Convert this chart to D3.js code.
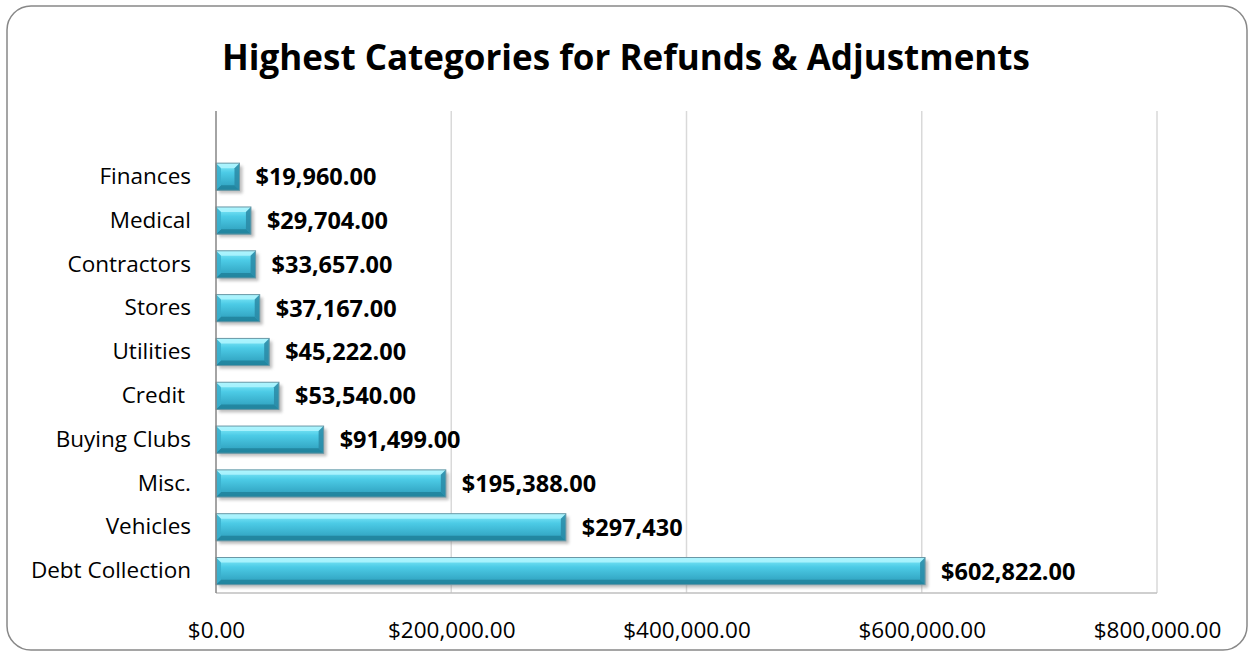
<!DOCTYPE html>
<html>
<head>
<meta charset="utf-8">
<script src="https://cdn.jsdelivr.net/npm/d3@7"></script>
<style>
  body { margin: 0; background: #fff; }
  text { font-family: "Open Sans", Lato, sans-serif; }
</style>
</head>
<body>
<div id="chart"></div>
<script>
// data, top of chart first
var categories = ["Finances", "Medical", "Contractors", "Stores", "Utilities", "Credit ", "Buying Clubs", "Misc.", "Vehicles", "Debt Collection"];
var values = [19960, 29704, 33657, 37167, 45222, 53540, 91499, 195388, 297430, 602822];
var valueLabels = ["$19,960.00", "$29,704.00", "$33,657.00", "$37,167.00", "$45,222.00", "$53,540.00", "$91,499.00", "$195,388.00", "$297,430", "$602,822.00"];
var xTicks = [0, 200000, 400000, 600000, 800000];

var data = categories.map(function(c, i) {
  return {category: c, value: values[i], label: valueLabels[i]};
});

var W = 1252, H = 656;
var plot = {left: 216, right: 1157, top: 111, bottom: 593};

var svg = d3.select("#chart").append("svg")
  .attr("width", W)
  .attr("height", H);

var defs = svg.append("defs");
var grad = defs.append("linearGradient")
  .attr("id", "barGrad")
  .attr("x1", 0).attr("y1", 0).attr("x2", 0).attr("y2", 1);
grad.append("stop").attr("offset", "0%").attr("stop-color", "#8aeefc");
grad.append("stop").attr("offset", "35%").attr("stop-color", "#4ccbe6");
grad.append("stop").attr("offset", "100%").attr("stop-color", "#2b9ab8");

var blur = defs.append("filter").attr("id", "shadow")
  .attr("x", "-10%").attr("y", "-30%").attr("width", "130%").attr("height", "180%");
blur.append("feGaussianBlur").attr("stdDeviation", 1.5);

// outer frame
svg.append("rect")
  .attr("x", 7).attr("y", 6)
  .attr("width", 1240).attr("height", 644)
  .attr("rx", 24).attr("ry", 24)
  .attr("fill", "#fff")
  .attr("stroke", "#888")
  .attr("stroke-width", 1.5);

// title
svg.append("text")
  .attr("x", 626)
  .attr("y", 70)
  .attr("text-anchor", "middle")
  .style("font-size", "35px")
  .style("font-weight", "bold")
  .text("Highest Categories for Refunds & Adjustments");

// scales
var x = d3.scaleLinear()
  .domain([0, 800000])
  .range([plot.left, plot.right]);

// one empty band is left above the first category
var step = (plot.bottom - plot.top) / (categories.length + 1);
var y = d3.scaleBand()
  .domain(categories)
  .range([plot.top + step, plot.bottom])
  .paddingInner(0.38)
  .paddingOuter(0.19);

// gridlines
svg.append("g")
  .selectAll("line")
  .data(xTicks.slice(1))
  .enter()
  .append("line")
    .attr("x1", function(d) { return x(d); })
    .attr("x2", function(d) { return x(d); })
    .attr("y1", plot.top)
    .attr("y2", plot.bottom)
    .attr("stroke", "#d9d9d9")
    .attr("stroke-width", 1.5);

svg.append("line")
  .attr("x1", plot.left).attr("x2", plot.right)
  .attr("y1", plot.bottom).attr("y2", plot.bottom)
  .attr("stroke", "#bfbfbf")
  .attr("stroke-width", 1.5);

// x axis labels
var xAxis = svg.append("g")
  .attr("transform", "translate(0," + plot.bottom + ")")
  .call(d3.axisBottom(x).tickValues(xTicks).tickFormat(d3.format("$,.2f")).tickSize(0).tickPadding(29));
xAxis.select(".domain").remove();
xAxis.selectAll("text")
  .style("font-size", "22.5px")
  .attr("fill", "#000");

// bars
var bevel = 5;
var bars = svg.append("g").selectAll("g")
  .data(data)
  .enter()
  .append("g")
    .attr("transform", function(d) { return "translate(" + x(0) + "," + y(d.category) + ")"; });

var bh = y.bandwidth();

bars.append("rect")
  .attr("x", 3).attr("y", 3)
  .attr("width", function(d) { return x(d.value) - x(0); })
  .attr("height", bh)
  .attr("fill", "#8a8a8a")
  .attr("opacity", 0.55)
  .attr("filter", "url(#shadow)");

bars.append("rect")
  .attr("width", function(d) { return x(d.value) - x(0); })
  .attr("height", bh)
  .attr("fill", "url(#barGrad)");

// bevel edges
bars.append("path")
  .attr("d", function(d) {
    var w = x(d.value) - x(0);
    return "M0,0 L" + w + ",0 L" + (w - bevel) + "," + bevel + " L" + bevel + "," + bevel + "Z";
  })
  .attr("fill", "#b5f6ff")
  .attr("opacity", 0.8);
bars.append("path")
  .attr("d", function(d) {
    var w = x(d.value) - x(0);
    return "M0," + bh + " L" + w + "," + bh + " L" + (w - bevel) + "," + (bh - bevel) + " L" + bevel + "," + (bh - bevel) + "Z";
  })
  .attr("fill", "#1f7f99")
  .attr("opacity", 0.8);
bars.append("path")
  .attr("d", function(d) {
    var w = x(d.value) - x(0);
    return "M" + w + ",0 L" + w + "," + bh + " L" + (w - bevel) + "," + (bh - bevel) + " L" + (w - bevel) + "," + bevel + "Z";
  })
  .attr("fill", "#2a8aa6")
  .attr("opacity", 0.85);
bars.append("path")
  .attr("d", "M0,0 L0," + bh + " L" + bevel + "," + (bh - bevel) + " L" + bevel + "," + bevel + "Z")
  .attr("fill", "#3aaecb")
  .attr("opacity", 0.85);

bars.append("rect")
  .attr("width", function(d) { return x(d.value) - x(0); })
  .attr("height", bh)
  .attr("fill", "none")
  .attr("stroke", "#6a98a6")
  .attr("stroke-width", 1);

// value labels
bars.append("text")
  .attr("x", function(d) { return x(d.value) - x(0) + 16; })
  .attr("y", bh / 2)
  .attr("dy", "0.36em")
  .style("font-size", "23.5px")
  .style("font-weight", "bold")
  .text(function(d) { return d.label; });

// y axis
var yAxis = svg.append("g")
  .attr("transform", "translate(" + plot.left + ",0)")
  .call(d3.axisLeft(y).tickSize(0).tickPadding(25));
yAxis.select(".domain").remove();
yAxis.selectAll("text")
  .style("font-size", "22.5px")
  .style("white-space", "pre")
  .attr("fill", "#000");

svg.append("line")
  .attr("x1", plot.left).attr("x2", plot.left)
  .attr("y1", plot.top).attr("y2", plot.bottom)
  .attr("stroke", "#868686")
  .attr("stroke-width", 1.5);
</script>
</body>
</html>
